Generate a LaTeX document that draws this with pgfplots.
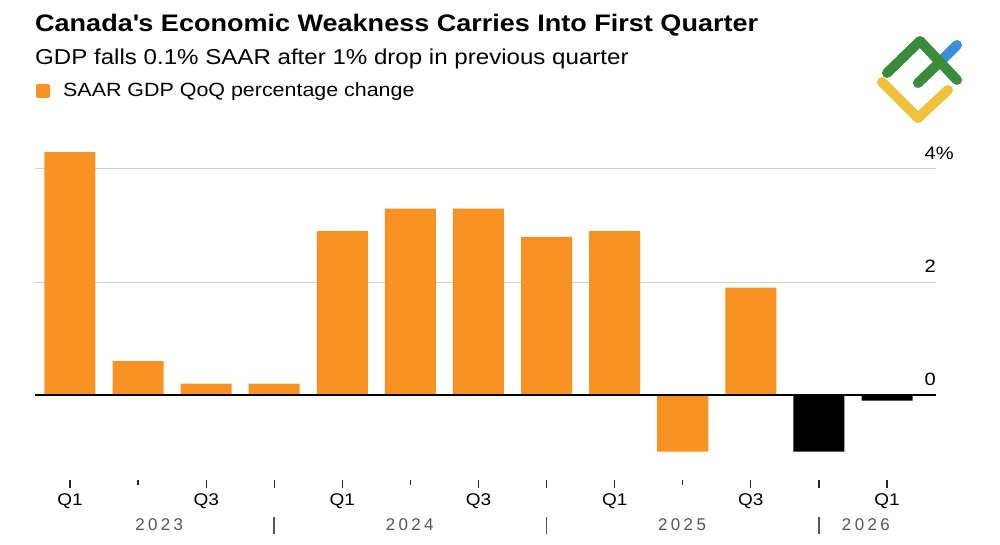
\documentclass[border=0pt]{standalone}
\usepackage{fontspec}
\setmainfont{Liberation Sans}
\usepackage{pgfplots}
\pgfplotsset{compat=1.18}

\definecolor{gdporange}{RGB}{248,146,35}
\definecolor{yeargray}{RGB}{85,85,85}
\definecolor{gridgray}{RGB}{208,208,208}
\definecolor{logogreen}{RGB}{56,140,60}
\definecolor{logoblue}{RGB}{58,143,217}
\definecolor{logoyellow}{RGB}{240,194,60}

\newfontfamily\widefont[FakeStretch=1.12]{Liberation Sans}

\begin{document}
\begin{tikzpicture}[x=1bp,y=1bp]
\path[use as bounding box] (0,0) rectangle (1000,545);

% headline, subtitle and key
\node[anchor=base west, inner sep=0pt, font=\widefont\fontsize{24}{28}\selectfont\bfseries\addfontfeatures{FakeStretch=1.13}]
  at (35,513) {Canada\textquotesingle s Economic Weakness Carries Into First Quarter};
\node[anchor=base west, inner sep=0pt, font=\widefont\fontsize{21.6}{26}\selectfont]
  at (35,480) {GDP falls 0.1\% SAAR after 1\% drop in previous quarter};
\fill[gdporange, rounded corners=2bp] (36,447) rectangle (50,461);
\node[anchor=base west, inner sep=0pt, font=\widefont\fontsize{19.2}{23}\selectfont]
  at (63,448) {SAAR GDP QoQ percentage change};

% logo
\begin{scope}[line width=10bp, line cap=round, line join=round]
  \draw[logoyellow] (882,463) -- (918,427) -- (948,455);
  \draw[logoblue] (942,485) -- (957,500);
  \draw[logogreen] (887,472) -- (920,504) -- (957,465);
  \draw[logogreen] (918,462) -- (940,483);
\end{scope}

\begin{axis}[
  at={(35bp,65bp)}, anchor=south west,
  scale only axis, width=901bp, height=333.6bp,
  xmin=-0.514, xmax=12.72, ymin=-1.504, ymax=4.4,
  axis x line*=bottom, axis y line*=right,
  axis line style={draw=none},
  tick align=outside,
  major tick length=8bp,
  xtick={0,2,3,4,6,7,8,10,11,12},
  xticklabels={Q1,Q3,,Q1,Q3,,Q1,Q3,,Q1},
  extra x ticks={1,5,9},
  extra x tick labels={},
  extra x tick style={major tick length=5bp},
  x tick style={draw=black!85, line width=1.3bp},
  xticklabel style={font=\widefont\fontsize{17}{20}\selectfont, inner sep=0pt, anchor=north, yshift=-5bp},
  ytick={0,2,4},
  yticklabels={0,2,4\rlap{\%}},
  y tick style={draw=none},
  yticklabel style={font=\widefont\fontsize{18}{21}\selectfont, inner sep=0pt, anchor=south east, xshift=-8bp, yshift=9bp},
  ymajorgrids,
  major grid style={draw=gridgray, line width=1bp},
  clip=false,
]
\addplot[ybar, bar width=51bp, bar shift=0pt, fill=gdporange, draw=none]
  coordinates {(0,4.3) (1,0.6) (2,0.2) (3,0.2) (4,2.9) (5,3.3) (6,3.3)
               (7,2.8) (8,2.9) (9,-1.0) (10,1.9)};
\addplot[ybar, bar width=51bp, bar shift=0pt, fill=black, draw=none]
  coordinates {(11,-1.0) (12,-0.1)};

% zero line
\draw[black, line width=1.6bp] (axis cs:-0.514,0) -- (axis cs:12.72,0);

% year row
\begin{scope}[font=\fontsize{17}{20}\selectfont\addfontfeatures{LetterSpace=20}]
  \node[anchor=base, inner sep=0pt, text=yeargray, yshift=-51bp] at (axis cs:1.31,-1.504) {2023};
  \node[anchor=base, inner sep=0pt, text=yeargray, yshift=-51bp] at (axis cs:4.99,-1.504) {2024};
  \node[anchor=base, inner sep=0pt, text=yeargray, yshift=-51bp] at (axis cs:8.99,-1.504) {2025};
  \node[anchor=base, inner sep=0pt, text=yeargray, yshift=-51bp] at (axis cs:11.69,-1.504) {2026};
\end{scope}
\draw[yeargray, line width=1.5bp] ([yshift=-37bp]axis cs:3,-1.504) -- ([yshift=-54bp]axis cs:3,-1.504);
\draw[yeargray, line width=1.5bp] ([yshift=-37bp]axis cs:7,-1.504) -- ([yshift=-54bp]axis cs:7,-1.504);
\draw[yeargray, line width=1.5bp] ([yshift=-37bp]axis cs:11,-1.504) -- ([yshift=-54bp]axis cs:11,-1.504);
\end{axis}
\end{tikzpicture}
\end{document}
